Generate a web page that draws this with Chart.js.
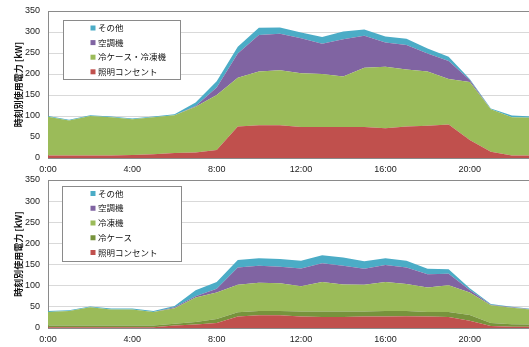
<!DOCTYPE html>
<html>
<head>
<meta charset="utf-8">
<script src="https://cdn.jsdelivr.net/npm/chart.js@4"></script>
<style>
  html, body { margin: 0; padding: 0; background: #fff; overflow: hidden; width: 529px; height: 347px; }
  .wrap { position: absolute; left: 0; width: 533px; }
  #w1 { top: 0; height: 173px; }
  #w2 { top: 173px; height: 174px; }
</style>
</head>
<body>
<div class="wrap" id="w1"><canvas id="c1"></canvas></div>
<div class="wrap" id="w2"><canvas id="c2"></canvas></div>
<script>
// Hourly categories
const hours = ['0:00','1:00','2:00','3:00','4:00','5:00','6:00','7:00','8:00','9:00','10:00','11:00',
               '12:00','13:00','14:00','15:00','16:00','17:00','18:00','19:00','20:00','21:00','22:00','23:00'];
const yTicks = [0, 50, 100, 150, 200, 250, 300, 350];
const yTitle = '時刻別使用電力 [kW]';

// Upper chart: hourly power by use [kW]
const upperLighting = [6,6,6,6,7,9,12,13,19,75,78,78,74,74,74,74,71,75,77,80,43,15,6,6];
const upperRefrig   = [92,83,94,91,85,88,90,109,131,116,128,131,128,126,120,141,146,136,129,108,138,101,91,90];
const upperAircon   = [0,0,0,0,0,0,0,2,18,58,87,87,83,72,89,76,58,58,43,43,5,0,0,0];
const upperOther    = [2,2,2,2,2,2,2,8,15,16,17,15,14,16,18,15,14,15,12,10,2,2,4,3];

// Lower chart: hourly power by use [kW]
const lowerLighting = [2,2,2,2,2,2,6,8,12,27,30,30,27,26,26,27,27,28,27,26,17,5,3,3];
const lowerShowcase = [4,4,4,4,4,4,4,6,9,10,10,10,12,13,13,12,13,12,11,12,14,7,6,5];
const lowerFreezer  = [32,34,43,38,38,32,37,58,63,65,67,66,60,70,64,63,69,64,58,63,53,42,39,35];
const lowerAircon   = [0,0,0,0,0,0,2,3,9,41,40,39,42,44,44,38,40,39,31,27,6,1,1,1];
const lowerOther    = [2,2,2,2,2,2,3,14,16,18,18,18,18,19,20,18,16,16,13,11,4,2,1,1];

const COLORS = {
  other: '#4BACC6',
  aircon: '#8064A2',
  refrig: '#9BBB59',
  showcase: '#77933C',
  lighting: '#C0504D'
};

function areaSet(label, data, color, first) {
  return {
    label, data,
    backgroundColor: color,
    borderColor: color,
    borderWidth: 0,
    pointRadius: 0,
    pointHoverRadius: 0,
    tension: 0,
    fill: first ? 'origin' : '-1'
  };
}

// Boxed legend placed inside the plot area, top series listed first
const boxLegend = {
  id: 'boxLegend',
  afterDraw(chart, args, o) {
    const ctx = chart.ctx;
    ctx.save();
    ctx.fillStyle = '#fff';
    ctx.fillRect(o.x, o.y, o.w, o.h);
    ctx.strokeStyle = '#8a8a8a';
    ctx.lineWidth = 1;
    ctx.strokeRect(o.x + 0.5, o.y + 0.5, o.w, o.h);
    ctx.font = '8.5px "Noto Sans CJK JP"';
    ctx.textBaseline = 'middle';
    ctx.textAlign = 'left';
    const sets = chart.data.datasets.slice().reverse();
    sets.forEach((ds, i) => {
      const cy = o.y + o.rowStart + i * o.rowGap;
      ctx.fillStyle = ds.backgroundColor;
      ctx.fillRect(o.markX, cy - 2.5, 5, 5);
      ctx.fillStyle = '#111';
      ctx.fillText(ds.label, o.textX, cy);
    });
    ctx.restore();
  }
};

function makeOptions(padTop, xHeight, legendOpts) {
  return {
    responsive: true,
    maintainAspectRatio: false,
    animation: false,
    devicePixelRatio: 1,
    layout: { padding: { top: padTop, left: 0, right: 0, bottom: 0 } },
    plugins: {
      legend: { display: false },
      tooltip: { enabled: false },
      boxLegend: legendOpts
    },
    scales: {
      x: {
        offset: false,
        grid: { display: false, drawTicks: false },
        border: { display: true, color: '#8a8a8a', width: 1 },
        ticks: {
          autoSkip: false,
          maxRotation: 0,
          padding: 6,
          color: '#222',
          font: { family: '"Liberation Sans", Arial, sans-serif', size: 9 },
          callback: (v, i) => (i % 4 === 0 ? hours[i] : '')
        },
        afterFit: s => { s.height = xHeight; s.paddingLeft = 0; s.paddingRight = 0; }
      },
      y: {
        stacked: true,
        min: yTicks[0],
        max: yTicks[yTicks.length - 1],
        afterBuildTicks: s => { s.ticks = yTicks.map(v => ({ value: v })); },
        grid: {
          drawTicks: false,
          color: c => (c.tick && c.tick.value === 350 ? '#8a8a8a' : '#d9d9d9'),
          lineWidth: 1
        },
        border: { display: true, color: '#8a8a8a', width: 1 },
        ticks: {
          padding: 8,
          color: '#222',
          font: { family: '"Liberation Sans", Arial, sans-serif', size: 9 }
        },
        title: {
          display: true,
          text: yTitle,
          color: '#111',
          padding: { top: 13, bottom: 0 },
          font: { family: '"Noto Sans CJK JP", sans-serif', size: 9, weight: 'bold' }
        },
        afterFit: s => { s.width = 48; s.paddingTop = 0; s.paddingBottom = 0; }
      }
    }
  };
}

new Chart(document.getElementById('c1'), {
  type: 'line',
  data: {
    labels: hours,
    datasets: [
      areaSet('照明コンセント', upperLighting, COLORS.lighting, true),
      areaSet('冷ケース・冷凍機', upperRefrig, COLORS.refrig, false),
      areaSet('空調機', upperAircon, COLORS.aircon, false),
      areaSet('その他', upperOther, COLORS.other, false)
    ]
  },
  options: makeOptions(11, 15, { x: 63, y: 20, w: 117, h: 59, rowStart: 8, rowGap: 14.6, markX: 90.5, textX: 98 }),
  plugins: [boxLegend]
});

new Chart(document.getElementById('c2'), {
  type: 'line',
  data: {
    labels: hours,
    datasets: [
      areaSet('照明コンセント', lowerLighting, COLORS.lighting, true),
      areaSet('冷ケース', lowerShowcase, COLORS.showcase, false),
      areaSet('冷凍機', lowerFreezer, COLORS.refrig, false),
      areaSet('空調機', lowerAircon, COLORS.aircon, false),
      areaSet('その他', lowerOther, COLORS.other, false)
    ]
  },
  options: makeOptions(7, 19, { x: 62, y: 13, w: 119, h: 75, rowStart: 7.5, rowGap: 14.75, markX: 90.5, textX: 98 }),
  plugins: [boxLegend]
});
</script>
</body>
</html>
